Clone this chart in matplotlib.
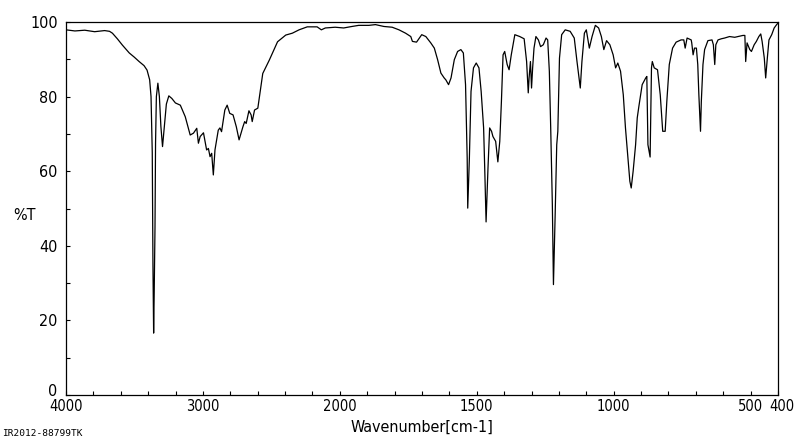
import numpy as np
import matplotlib
matplotlib.use("Agg")
import matplotlib.pyplot as plt
from matplotlib.ticker import FixedLocator, MultipleLocator
from matplotlib.transforms import offset_copy

# IR spectrum (wavenumber cm-1, %T)
wavenumber = [
    4000, 3935, 3863, 3791, 3718, 3682, 3661, 3625, 3588, 3538, 3502, 3466, 3430, 3408,
    3389, 3379, 3370, 3365, 3360, 3356, 3350, 3346, 3340, 3329, 3318, 3307, 3295, 3282,
    3267, 3249, 3227, 3201, 3165, 3129, 3093, 3069, 3045, 3033, 3020, 2996, 2973, 2960,
    2948, 2936, 2924, 2912, 2888, 2876, 2864, 2840, 2823, 2804, 2780, 2756, 2736, 2708,
    2695, 2684, 2664, 2648, 2640, 2623, 2599, 2563, 2515, 2455, 2395, 2347, 2298, 2238,
    2166, 2135, 2106, 2034,
    1986, 1956, 1931, 1894, 1870, 1839, 1809, 1784, 1760, 1741, 1735, 1720, 1701, 1686,
    1668, 1655, 1643, 1631, 1619, 1613, 1603, 1594, 1582, 1570, 1558, 1549, 1541, 1535,
    1533, 1527, 1521, 1512, 1502, 1492, 1484, 1475, 1471, 1466, 1459, 1453, 1446, 1441,
    1431, 1423, 1416, 1410, 1404, 1398, 1389, 1382, 1374, 1361, 1343, 1327, 1318, 1312,
    1309, 1304, 1300, 1296, 1291, 1284, 1275, 1267, 1257, 1247, 1241, 1235, 1230, 1224,
    1220, 1214, 1208, 1204, 1198, 1190, 1177, 1159, 1144, 1134, 1122, 1116, 1107, 1100,
    1095, 1089, 1079, 1067, 1055, 1045, 1036, 1026, 1014, 1002, 993, 985, 975, 965,
    957, 948, 941, 936, 929, 920, 914, 908, 896, 883, 879, 875, 867, 862,
    859, 852, 840, 830, 821, 812, 806, 797, 785, 772, 754, 744, 739, 732,
    717, 715, 710, 705, 698, 693, 689, 683, 680, 674, 668, 656, 641, 636,
    631, 627, 619, 607, 595, 577, 558, 546, 528, 521, 518, 513, 503, 497,
    487, 479, 470, 463, 458, 450, 445, 439, 433, 423, 414, 405, 400,
]
transmittance = [
    97.9, 97.6, 97.8, 97.4, 97.7, 97.5, 97.0, 95.5, 93.8, 91.7, 90.6, 89.4, 88.3, 87.1,
    84.5, 80.0, 65.0, 35.0, 16.6, 27.0, 45.0, 67.5, 80.0, 83.6, 80.0, 72.0, 66.6, 72.0,
    78.0, 80.2, 79.5, 78.3, 77.7, 74.6, 69.7, 70.2, 71.5, 67.5, 69.3, 70.3, 65.7, 66.1,
    63.9, 64.8, 59.0, 65.7, 71.0, 71.6, 70.6, 76.4, 77.7, 75.5, 75.1, 71.9, 68.4, 71.9,
    73.3, 72.8, 76.2, 75.1, 73.3, 76.4, 76.9, 86.2, 89.8, 94.7, 96.5, 97.0, 97.9, 98.7,
    98.7, 97.9, 98.4, 98.6,
    98.4, 98.8, 99.1, 99.1, 99.3, 98.8, 98.6, 97.9, 97.0, 96.1, 94.8, 94.6, 96.6, 96.1,
    94.4, 93.0, 89.9, 86.3, 85.0, 84.5, 83.2, 85.0, 89.9, 92.1, 92.6, 91.7, 83.2, 63.5,
    50.1, 63.5, 81.4, 87.7, 89.0, 87.7, 81.4, 71.6, 60.9, 46.4, 60.9, 71.6, 70.7, 69.3,
    68.0, 62.5, 68.0, 78.7, 91.2, 92.1, 88.6, 87.2, 91.2, 96.6, 96.1, 95.5, 89.4, 81.0,
    85.0, 89.4, 82.3, 87.7, 93.0, 96.1, 95.2, 93.4, 93.9, 95.7, 95.2, 86.8, 71.6, 51.0,
    29.6, 47.5, 67.1, 70.7, 90.3, 96.6, 97.9, 97.5, 95.7, 89.4, 82.3, 89.4, 97.0, 97.9,
    95.7, 93.0, 96.1, 99.1, 98.4, 96.1, 92.6, 95.0, 93.9, 91.2, 87.7, 89.0, 86.8, 80.5,
    71.6, 63.5, 57.3, 55.5, 60.0, 67.1, 74.3, 77.4, 83.2, 85.0, 85.4, 67.1, 63.8, 87.7,
    89.4, 87.7, 87.2, 80.5, 70.7, 70.7, 78.7, 88.6, 93.0, 94.6, 95.2, 95.2, 93.0, 95.7,
    95.2, 94.4, 91.2, 93.0, 93.0, 88.6, 80.5, 70.7, 78.7, 88.6, 92.6, 95.0, 95.2, 93.9,
    88.6, 93.9, 95.2, 95.5, 95.7, 96.1, 95.9, 96.1, 96.4, 96.4, 89.4, 94.4, 92.6, 92.1,
    93.9, 94.8, 96.1, 96.8, 94.8, 90.3, 85.0, 90.3, 95.2, 96.6, 98.4, 99.3, 99.7,
]

x_ticks = [4000, 3000, 2000, 1500, 1000, 500, 400]
x_tick_labels = ["4000", "3000", "2000", "1500", "1000", "500", "400"]
y_ticks = [0, 20, 40, 60, 80, 100]


# spectrometer style axis: scale doubles below 2000 cm-1
def forward(v):
    v = np.asarray(v, dtype=float)
    return np.where(v > 2000, 2000 + (v - 2000) / 2, v)


def inverse(u):
    u = np.asarray(u, dtype=float)
    return np.where(u > 2000, 2000 + (u - 2000) * 2, u)


font = dict(family="DejaVu Sans", stretch="condensed", fontsize=11.5)

fig = plt.figure(figsize=(8, 4.41), dpi=100)
ax = fig.add_axes([66 / 800, 1 - 395 / 441, 712 / 800, 373 / 441])
ax.plot(wavenumber, transmittance, color="black", linewidth=0.9)

ax.set_xscale("function", functions=(forward, inverse))
ax.set_xlim(4000, 400)
ax.set_ylim(0, 100)

minor_x = list(range(3800, 2000, -200)) + list(range(1900, 400, -100))
ax.xaxis.set_major_locator(FixedLocator(x_ticks))
ax.xaxis.set_minor_locator(FixedLocator(minor_x))
ax.set_xticklabels(x_tick_labels)
ax.yaxis.set_major_locator(FixedLocator(y_ticks))
ax.yaxis.set_minor_locator(MultipleLocator(10))

ax.tick_params(which="both", direction="in", length=3, width=0.8, color="black")
ax.tick_params(axis="x", which="both", pad=3)
ax.tick_params(axis="y", which="both", pad=6)
for lab in ax.get_yticklabels():
    lab.set_family(font["family"])
    lab.set_stretch(font["stretch"])
    lab.set_fontsize(font["fontsize"])
for lab in ax.get_xticklabels():
    lab.set_family(font["family"])
    lab.set_stretch(font["stretch"])
    lab.set_fontsize(10.5)

# "500" and "400" sit side by side, nudge "400" right so they do not collide
xl = ax.get_xticklabels()
xl[6].set_transform(offset_copy(xl[6].get_transform(), fig=fig, x=4, units="dots"))
yl = ax.get_yticklabels()
yl[0].set_transform(offset_copy(yl[0].get_transform(), fig=fig, y=5, units="dots"))

for s in ax.spines.values():
    s.set_linewidth(0.9)

ax.set_xlabel("Wavenumber[cm-1]", labelpad=4, **font)
fig.text(24 / 800, 1 - 216 / 441, "%T", ha="center", va="center", **font)
fig.text(2 / 800, 1 - 433 / 441, "IR2012-88799TK", family="DejaVu Sans Mono", fontsize=6.8,
         ha="left", va="center")

fig.savefig("out.png", dpi=100)
